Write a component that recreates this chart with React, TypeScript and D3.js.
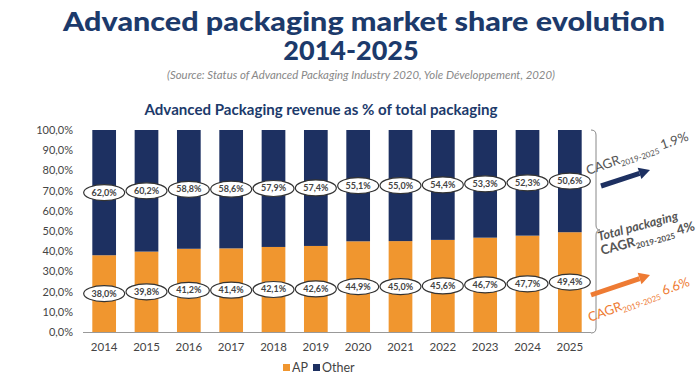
import React from "react";
import * as d3 from "d3";

const years = ["2014","2015","2016","2017","2018","2019","2020","2021","2022","2023","2024","2025"];
const apShare = [38.0, 39.8, 41.2, 41.4, 42.1, 42.6, 44.9, 45.0, 45.6, 46.7, 47.7, 49.4];
const otherShare = [62.0, 60.2, 58.8, 58.6, 57.9, 57.4, 55.1, 55.0, 54.4, 53.3, 52.3, 50.6];
const yTicks = [0, 10, 20, 30, 40, 50, 60, 70, 80, 90, 100];
const legendItems = ["AP", "Other"];

const W = 700, H = 381;
const ORANGE = "#F0962F";
const NAVY = "#1D3061";
const ARROW_ORANGE = "#EE7B33";
const TITLE = "#1C3A6B";
const GRAY = "#555";
const FONT = "Lato, 'Open Sans', sans-serif";

const fmt = (v: number) => v.toFixed(1).replace(".", ",") + "%";

export default function App() {
  const x = d3.scaleBand<string>().domain(years).range([83, 591]).paddingInner(0.44).paddingOuter(0.22);
  const y = d3.scaleLinear().domain([0, 100]).range([332, 130]);
  const bw = x.bandwidth();

  const arrow = (x1: number, y1: number, x2: number, y2: number, color: string) => {
    const ang = Math.atan2(y2 - y1, x2 - x1);
    const hl = 11, hw = 6;
    const bx = x2 - hl * Math.cos(ang), by = y2 - hl * Math.sin(ang);
    const px = -Math.sin(ang), py = Math.cos(ang);
    return (
      <g>
        <line x1={x1} y1={y1} x2={bx} y2={by} stroke={color} strokeWidth={5} />
        <path d={`M${x2},${y2} L${bx + px * hw},${by + py * hw} L${bx - px * hw},${by - py * hw} Z`} fill={color} />
      </g>
    );
  };

  const cagr = (xx: number, yy: number, ang: number, value: string, color: string, size = 13) => (
    <text transform={`translate(${xx},${yy}) rotate(${ang})`} fill={color} fontFamily={FONT} fontSize={size}>
      CAGR<tspan fontSize={size * 0.62} dy={3}>2019-2025</tspan><tspan dy={-3}> {value}</tspan>
    </text>
  );

  return (
    <svg width={W} height={H} style={{ position: "absolute", left: 0, top: 0, background: "#fff" }}>
      <rect width={W} height={H} fill="#fff" />
      <text x={364} y={31} textAnchor="middle" fontFamily={FONT} fontWeight={900} fontSize={27} fill={TITLE}
        textLength={602} lengthAdjust="spacingAndGlyphs">Advanced packaging market share evolution</text>
      <text x={351} y={60} textAnchor="middle" fontFamily={FONT} fontWeight={900} fontSize={27} fill={TITLE}>2014-2025</text>
      <text x={361} y={79} textAnchor="middle" fontFamily={FONT} fontStyle="italic" fontSize={11} fill="#888"
        textLength={388} lengthAdjust="spacingAndGlyphs">(Source: Status of Advanced Packaging Industry 2020, Yole Développement, 2020)</text>
      <text x={321} y={115} textAnchor="middle" fontFamily={FONT} fontWeight={700} fontSize={15} fill={TITLE}
        textLength={353} lengthAdjust="spacingAndGlyphs">Advanced Packaging revenue as % of total packaging</text>

      {yTicks.map((t) => (
        <text key={t} x={73} y={y(t) + 4} textAnchor="end" fontFamily={FONT} fontSize={11} fill="#444">{fmt(t)}</text>
      ))}

      {years.map((yr, i) => (
        <g key={yr}>
          <rect x={x(yr)} y={y(apShare[i])} width={bw} height={y(0) - y(apShare[i])} fill={ORANGE} />
          <rect x={x(yr)} y={y(100)} width={bw} height={y(apShare[i]) - y(100)} fill={NAVY} />
        </g>
      ))}
      <line x1={83} x2={591} y1={332.5} y2={332.5} stroke="#999" strokeWidth={1} />

      {years.map((yr, i) => {
        const cx = (x(yr) as number) + bw / 2;
        const yo = y(apShare[i] + otherShare[i] / 2);
        const ya = y(apShare[i] / 2);
        return (
          <g key={"l" + yr} fontFamily={FONT} fontSize={9} fontWeight={700} fill="#444">
            <ellipse cx={cx} cy={yo} rx={20.5} ry={8} fill="#fff" stroke="#333" strokeWidth={1.2} />
            <text x={cx} y={yo + 3} textAnchor="middle">{fmt(otherShare[i])}</text>
            <ellipse cx={cx} cy={ya} rx={20.5} ry={8} fill="#fff" stroke="#333" strokeWidth={1.2} />
            <text x={cx} y={ya + 3} textAnchor="middle">{fmt(apShare[i])}</text>
          </g>
        );
      })}

      {years.map((yr) => (
        <text key={"x" + yr} x={(x(yr) as number) + bw / 2} y={351} textAnchor="middle" fontFamily={FONT} fontSize={11.5} fill="#444">{yr}</text>
      ))}

      {legendItems.map((name, i) => {
        const lx = i === 0 ? 283 : 313;
        return (
          <g key={name}>
            <rect x={lx} y={364} width={7} height={7} fill={i === 0 ? ORANGE : NAVY} />
            <text x={lx + 9} y={372} fontFamily={FONT} fontSize={12.5} fill="#444">{name}</text>
          </g>
        );
      })}

      <path d="M591,130 Q596,130 596,135 L596,225 Q596,230 600,230 Q596,230 596,235 L596,328 Q596,333 591,333"
        fill="none" stroke="#888" strokeWidth={1} />

      {arrow(601, 186, 650, 170, NAVY)}
      {arrow(591, 295, 650, 275, ARROW_ORANGE)}

      {cagr(588, 175, -19, "1.9%", GRAY)}
      <text transform="translate(599,241) rotate(-15)" fontFamily={FONT} fontSize={12.5} fontWeight={700} fontStyle="italic" fill={GRAY}>Total packaging</text>
      <g fontWeight={700}>{cagr(602, 255, -15, "4%", GRAY)}</g>
      {cagr(590, 322, -20, "6.6%", ARROW_ORANGE)}
    </svg>
  );
}
